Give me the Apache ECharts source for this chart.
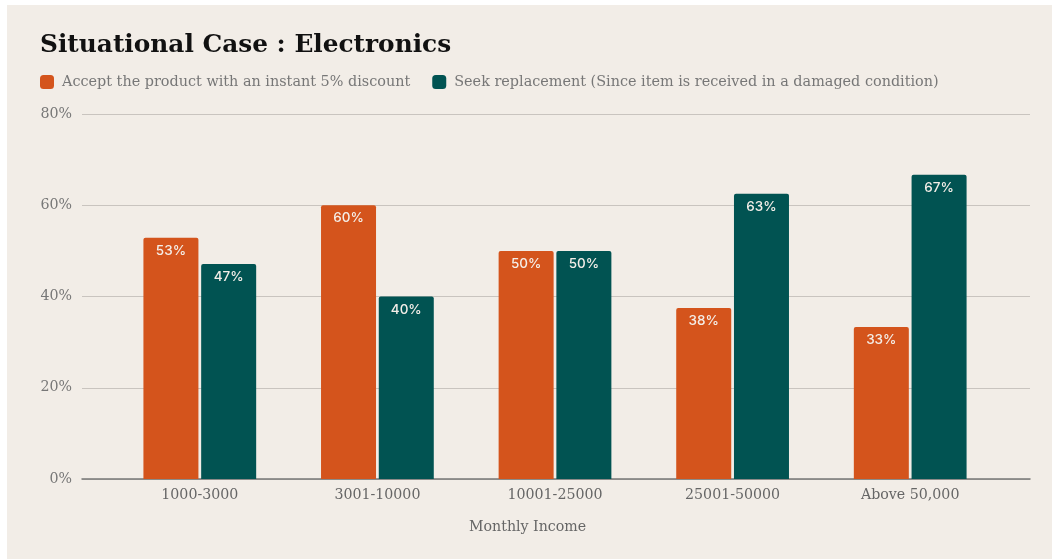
<!DOCTYPE html>
<html>
<head>
<meta charset="utf-8">
<script src="https://cdn.jsdelivr.net/npm/echarts@6/dist/echarts.min.js"></script>
<style>
html,body{margin:0;padding:0;background:#F2EDE7;overflow:hidden;}
#chart{position:absolute;left:0;top:0;width:1052px;height:559px;}
</style>
</head>
<body>
<div id="chart"></div>
<script>
const titleText = 'Situational Case : Electronics';
const categories = ['1000-3000', '3001-10000', '10001-25000', '25001-50000', 'Above 50,000'];
const seriesNames = ['Accept the product with an instant 5% discount', 'Seek replacement (Since item is received in a damaged condition)'];
const acceptDiscount = [52.9, 60, 50, 37.5, 33.33];
const seekReplacement = [47.1, 40, 50, 62.5, 66.67];
const yTicks = [0, 20, 40, 60, 80];
const xAxisName = 'Monthly Income';

const ORANGE = '#D4541C';
const TEAL = '#015352';
const BG = '#F2EDE7';
const SERIF = '"DejaVu Serif", serif';

const chart = echarts.init(document.getElementById('chart'), null, {renderer: 'canvas'});
const labelCfg = {
  show: true,
  position: 'insideTop',
  distance: 6,
  color: '#F4EEE8',
  fontFamily: 'Inter, Roboto, sans-serif',
  fontSize: 13.5,
  fontWeight: 500,
  formatter: p => Math.round(p.value) + '%'
};
chart.setOption({
  backgroundColor: BG,
  animation: false,
  title: {
    text: titleText,
    left: 35, top: 28,
    textStyle: {fontFamily: SERIF, fontWeight: 'bold', fontSize: 24.8, color: '#111111'}
  },
  legend: {
    left: 35, top: 70,
    itemWidth: 14, itemHeight: 14, itemGap: 22,
    icon: 'roundRect',
    textStyle: {fontFamily: SERIF, fontSize: 14.4, color: '#777777', padding: [0, 0, 0, 3]},
    data: seriesNames
  },
  grid: [
    {left: 82, right: 22, top: 114, bottom: 80},
    {left: 111, right: 53, top: 114, bottom: 80}
  ],
  xAxis: [
    {gridIndex: 0, type: 'category', data: categories, axisLabel: {show: false}, axisTick: {show: false},
     axisLine: {show: true, lineStyle: {color: '#777777', width: 1.5}}},
    {gridIndex: 1, type: 'category', data: categories, axisTick: {show: false}, axisLine: {show: false},
     axisLabel: {fontFamily: SERIF, fontSize: 14.2, color: '#666666', margin: 9}}
  ],
  yAxis: [
    {gridIndex: 0, type: 'value', min: yTicks[0], max: yTicks[yTicks.length - 1], interval: 20,
     axisLabel: {formatter: v => v + '%', fontFamily: SERIF, fontSize: 14.2, color: '#777777', margin: 10},
     splitLine: {lineStyle: {color: '#C9C4BF', width: 1}},
     axisLine: {show: false}, axisTick: {show: false}},
    {gridIndex: 1, type: 'value', min: yTicks[0], max: yTicks[yTicks.length - 1], interval: 20, show: false,
     splitLine: {show: false}}
  ],
  graphic: [
    {type: 'rect', left: 0, top: 0, shape: {width: 1052, height: 5}, style: {fill: '#ffffff'}, z: 100},
    {type: 'rect', left: 0, top: 0, shape: {width: 7, height: 559}, style: {fill: '#ffffff'}, z: 100},
    {type: 'text', left: 469, top: 520, style: {text: xAxisName, fontFamily: SERIF, fontSize: 14.2, fill: '#666666'}}
  ],
  series: [
    {name: seriesNames[0], type: 'bar', xAxisIndex: 1, yAxisIndex: 1, data: acceptDiscount,
     barWidth: 55, barGap: '5%', itemStyle: {color: ORANGE, borderRadius: [2, 2, 0, 0]}, label: labelCfg},
    {name: seriesNames[1], type: 'bar', xAxisIndex: 1, yAxisIndex: 1, data: seekReplacement,
     barWidth: 55, barGap: '5%', itemStyle: {color: TEAL, borderRadius: [2, 2, 0, 0]}, label: labelCfg}
  ]
});
</script>
</body>
</html>
